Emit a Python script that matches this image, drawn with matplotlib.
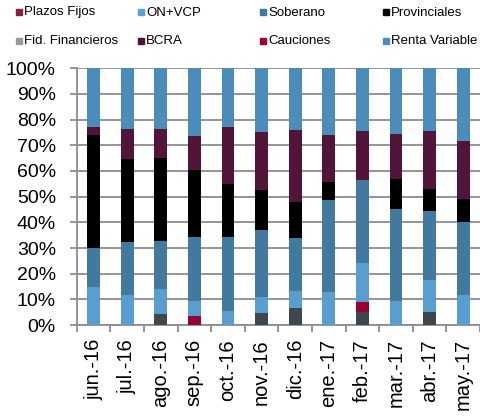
import matplotlib
matplotlib.use("Agg")
import matplotlib.pyplot as plt
import numpy as np
from matplotlib.patches import Rectangle

plt.rcParams["font.family"] = ["Liberation Sans", "DejaVu Sans"]

months = ["jun.-16", "jul.-16", "ago.-16", "sep.-16", "oct.-16", "nov.-16",
          "dic.-16", "ene.-17", "feb.-17", "mar.-17", "abr.-17", "may.-17"]

# shares in % (stack order, bottom to top)
fid_financieros = [0.0, 0.0, 4.3, 0.0, 0.0, 4.7, 6.6, 0.0, 5.2, 0.0, 4.9, 0.0]
cauciones = [0.0, 0.0, 0.0, 3.5, 0.0, 0.0, 0.0, 0.0, 3.9, 0.0, 0.0, 0.0]
plazos_fijos = [0.0] * 12
on_vcp = [14.8, 11.7, 9.9, 5.8, 5.3, 6.3, 6.5, 12.7, 15.1, 9.5, 12.7, 11.5]
soberano = [15.2, 20.6, 18.4, 24.8, 28.8, 26.0, 20.7, 35.9, 32.4, 35.8, 27.0, 28.5]
provinciales = [44.0, 32.3, 32.3, 26.1, 20.7, 15.5, 14.3, 7.0, 0.0, 11.4, 8.2, 9.1]
bcra = [3.3, 11.7, 11.3, 13.6, 22.5, 22.5, 27.7, 18.5, 18.8, 17.8, 22.6, 22.5]
renta_variable = [22.7, 23.7, 23.8, 26.2, 22.7, 25.0, 24.2, 25.9, 24.6, 25.5, 24.6, 28.4]

legend_labels = ["Plazos Fijos", "ON+VCP", "Soberano", "Provinciales",
                 "Fid. Financieros", "BCRA", "Cauciones", "Renta Variable"]
legend_colors = ["#8c1c40", "#5aa0d2", "#41789f", "#000000",
                 "#9a9a9a", "#4c1333", "#a0002f", "#4d8dbd"]

stack = [
    (fid_financieros, "#3e464e"),
    (cauciones, "#990033"),
    (plazos_fijos, "#8c1c40"),
    (on_vcp, "#5a9ed0"),
    (soberano, "#42799f"),
    (provinciales, "#000000"),
    (bcra, "#521438"),
    (renta_variable, "#4c8cbb"),
]

fig = plt.figure(figsize=(4.8, 4.19), dpi=100)
ax = fig.add_axes([0.160, 0.2243, 0.840, 0.6127])

x = np.arange(len(months))
bottom = np.zeros(len(months))
for vals, color in stack:
    vals = np.array(vals)
    ax.bar(x, vals, 0.38, bottom=bottom, color=color, linewidth=0, zorder=3)
    bottom += vals

ax.set_xlim(-0.5, len(months) - 0.5)
ax.set_ylim(0, 100)
ax.set_yticks(np.arange(0, 101, 10))
ax.set_yticklabels([f"{v}%" for v in range(0, 101, 10)], fontsize=14)
ax.yaxis.grid(True, color="#8c8c8c", linewidth=1.3, zorder=0)
ax.set_axisbelow(True)

ax.set_xticks(x)
ax.set_xticklabels(months, rotation=90, fontsize=14.5)
ax.set_xticks(np.arange(-0.5, len(months)), minor=True)
ax.tick_params(axis="x", which="major", length=0, pad=10)
ax.tick_params(axis="x", which="minor", length=5, color="#8c8c8c", width=1.3)
ax.tick_params(axis="y", length=5, color="#8c8c8c", width=1.3, pad=10)

for side in ["top", "right"]:
    ax.spines[side].set_visible(False)
for side in ["left", "bottom"]:
    ax.spines[side].set_color("#8c8c8c")
    ax.spines[side].set_linewidth(1.3)

# legend laid out as a fixed grid like the original
col_x = [16, 138, 260, 383]
row_y = [12.5, 41.5]
W, H = 480, 419
for i, (lab, col) in enumerate(zip(legend_labels, legend_colors)):
    px = col_x[i % 4]
    py = row_y[i // 4]
    fig.patches.append(Rectangle((px / W, 1 - (py + 3) / H), 6 / W, 6 / H,
                                 transform=fig.transFigure, color=col))
    fig.text((px + 8) / W, 1 - py / H, lab, fontsize=9.5, va="center", ha="left")

fig.savefig("out.png", dpi=100)
